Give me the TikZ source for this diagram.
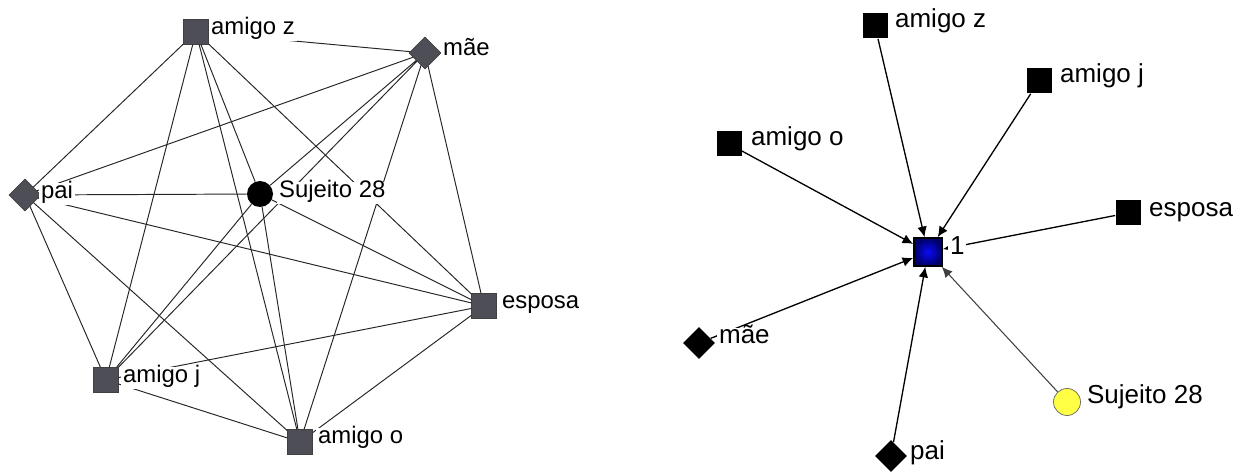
\documentclass[tikz,border=0pt]{standalone}
\usepackage{fontspec}
\setmainfont{Liberation Sans}
\usetikzlibrary{shapes.geometric,arrows.meta}
\definecolor{nodegray}{RGB}{78,78,86}
\definecolor{egoblue}{RGB}{10,10,245}
\definecolor{egonavy}{RGB}{0,0,105}
\definecolor{egoyellow}{RGB}{255,255,70}

\begin{document}
\begin{tikzpicture}[x=0.02cm,y=-0.02cm,
  sq/.style={rectangle,draw=black!75,fill=nodegray,minimum size=0.5cm,inner sep=0pt},
  dia/.style={diamond,aspect=1,draw=black!75,fill=nodegray,minimum size=0.64cm,inner sep=0pt},
  bsq/.style={rectangle,fill=black,minimum size=0.5cm,inner sep=0pt},
  bdia/.style={diamond,aspect=1,fill=black,minimum size=0.64cm,inner sep=0pt},
  tie/.style={draw=black!85,line width=0.55pt},
  arr/.style={draw=black,line width=0.75pt,-{Latex[length=6pt,width=5.5pt]}},
  lbl/.style={anchor=west,fill=white,inner xsep=1pt,inner ysep=1.5pt,
    text height=0.75em,text depth=0.25em,font=\fontsize{13.6}{16}\selectfont},
  rlbl/.style={lbl,font=\fontsize{14.8}{17}\selectfont}]
  \useasboundingbox (0,0) rectangle (1236,472);

  % left: everyone tied to everyone
  \node[sq] (lz) at (196,32) {};
  \node[dia] (lm) at (425,53) {};
  \node[dia] (lp) at (25,195) {};
  \node[circle,fill=black,minimum size=0.52cm,inner sep=0pt] (ls) at (260,194) {};
  \node[sq] (le) at (484,306) {};
  \node[sq] (lj) at (106,380) {};
  \node[sq] (lo) at (300,442) {};

  \draw[tie] (lz) -- (lm) (lz) -- (lp) (lz) -- (ls) (lz) -- (le) (lz) -- (lj) (lz) -- (lo);
  \draw[tie] (lm) -- (lp) (lm) -- (ls) (lm) -- (le) (lm) -- (lj) (lm) -- (lo);
  \draw[tie] (lp) -- (ls) (lp) -- (le) (lp) -- (lj) (lp) -- (lo);
  \draw[tie] (ls) -- (le) (ls) -- (lj) (ls) -- (lo);
  \draw[tie] (le) -- (lj) (le) -- (lo);
  \draw[tie] (lj) -- (lo);

  \node[lbl] (lz-t) at (209,30) {amigo z};
  \node[lbl] (lm-t) at (441,51) {mãe};
  \node[lbl] (lp-t) at (39,194) {pai};
  \node[lbl] (ls-t) at (277,193) {Sujeito 28};
  \node[lbl] (le-t) at (500,304) {esposa};
  \node[lbl] (lj-t) at (121,378) {amigo j};
  \node[lbl] (lo-t) at (316,439) {amigo o};

  % right: star pointing in to node 1
  \node[rectangle,draw=black,line width=1pt,inner color=egoblue,outer color=egonavy,
    minimum size=0.56cm,inner sep=0pt] (rc) at (928,252) {};
  \node[bsq] (rz) at (875,26) {};
  \node[bsq] (rj) at (1039,81) {};
  \node[bsq] (ro) at (729,144) {};
  \node[bsq] (re) at (1128,213) {};
  \node[bdia] (rm) at (699,343) {};
  \node[bdia] (rp) at (891,456) {};
  \node[circle,draw=black!60,fill=egoyellow,minimum size=0.54cm,inner sep=0pt] (rs) at (1067,402) {};

  \draw[arr] (rz) -- (rc);
  \draw[arr] (rj) -- (rc);
  \draw[arr] (ro) -- (rc);
  \draw[arr] (re) -- (rc);
  \draw[arr] (rm) -- (rc);
  \draw[arr] (rp) -- (rc);
  \draw[arr,draw=black!75,line width=0.6pt] (rs) -- (rc);

  \node[rlbl] (rc-t) at (948,250) {1};
  \node[rlbl] (rz-t) at (893,23) {amigo z};
  \node[rlbl] (rj-t) at (1058,78) {amigo j};
  \node[rlbl] (ro-t) at (749,141) {amigo o};
  \node[rlbl] (re-t) at (1147,212) {esposa};
  \node[rlbl] (rm-t) at (717,339) {mãe};
  \node[rlbl] (rp-t) at (908,455) {pai};
  \node[rlbl] (rs-t) at (1085,399) {Sujeito 28};
\end{tikzpicture}
\end{document}
